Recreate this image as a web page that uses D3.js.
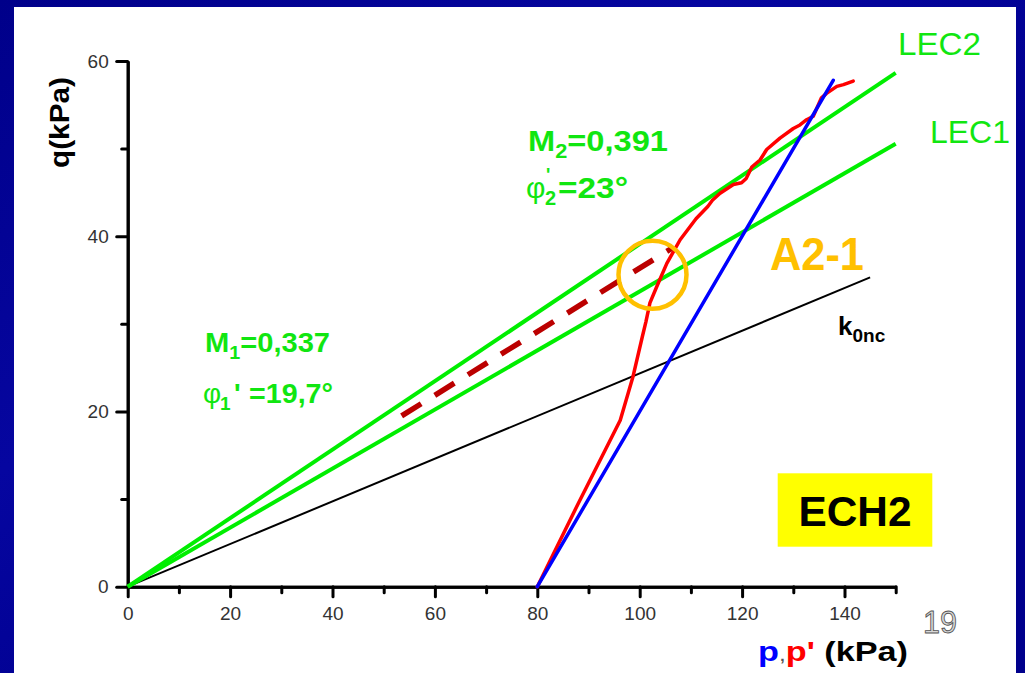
<!DOCTYPE html>
<html><head><meta charset="utf-8">
<script src="https://cdn.jsdelivr.net/npm/d3@7"></script>
<style>html,body{margin:0;padding:0;background:#00008c;overflow:hidden}svg{display:block}</style>
</head><body><svg id="c" width="1025" height="673"></svg>
<script>
// ---- data ----
const xMajorTicks = [0, 20, 40, 60, 80, 100, 120, 140];
const xMinorTicks = [10, 30, 50, 70, 90, 110, 130, 150];
const yMajorTicks = [0, 20, 40, 60];
const yMinorTicks = [10, 30, 50];
const lec1 = [[0, 0], [150, 50.55]];
const lec2 = [[0, 0], [150, 58.65]];
const k0nc = [[0, 0], [145, 35.3]];
const totalPath = [[80, 0], [137.8, 57.8]];
const effectivePath = [
  [80, 0], [88, 9.5], [96.2, 19], [98.7, 24], [100.5, 28.5], [101.2, 30.2], [102, 32.4],
  [103.3, 34.2], [105.3, 36.9], [107.9, 39.6], [111, 42], [113.3, 43.4], [114.2, 44.1],
  [115.7, 44.9], [118.3, 45.9], [119.9, 46.1], [120.8, 46.6], [121.9, 47.9], [123.5, 48.7],
  [124.8, 49.9], [127.4, 51.2], [130, 52.3], [131.3, 52.7], [132.6, 53.3], [133.9, 53.7],
  [135.5, 55.8], [136.5, 56.3], [138.5, 57.1], [139.8, 57.3], [141.7, 57.7]
];
const trendLine = [[53.5, 19.5], [106.2, 38.6]];
const failurePoint = [102.5, 35.6];

// ---- drawing ----
const svg = d3.select("#c");
const FONT = "'Liberation Sans', Arial, sans-serif";
const defs = svg.append("defs");
const g1 = defs.append("linearGradient").attr("id", "bg").attr("x1", "0").attr("y1", "0").attr("x2", "1").attr("y2", "1");
g1.append("stop").attr("offset", "0").attr("stop-color", "#00008a");
g1.append("stop").attr("offset", "0.35").attr("stop-color", "#0606a0");
g1.append("stop").attr("offset", "0.6").attr("stop-color", "#000090");
g1.append("stop").attr("offset", "1").attr("stop-color", "#00008c");
svg.append("rect").attr("width", 1025).attr("height", 673).attr("fill", "url(#bg)");
svg.append("rect").attr("x", 14).attr("y", 7).attr("width", 1002).attr("height", 666).attr("fill", "#ffffff");

const x = d3.scaleLinear().domain([0, 150]).range([127.7, 895.7]);
const y = d3.scaleLinear().domain([0, 60]).range([586.7, 61]);

function styleAxis(g) {
  g.selectAll("path.domain").attr("stroke", "#000").attr("stroke-width", 3);
  g.selectAll(".tick line").attr("stroke", "#000").attr("stroke-width", 3).attr("stroke-linecap", "round");
  g.selectAll(".tick text").attr("fill", "#333").style("font-family", FONT).style("font-size", "19px");
}
// minor ticks
svg.append("g").attr("transform", `translate(0,${y(0)})`)
  .call(d3.axisBottom(x).tickValues(xMinorTicks).tickSize(6).tickSizeOuter(0).tickFormat(""))
  .call(styleAxis);
svg.append("g").attr("transform", `translate(${x(0)},0)`)
  .call(d3.axisLeft(y).tickValues(yMinorTicks).tickSize(6).tickSizeOuter(0).tickFormat(""))
  .call(styleAxis);
// major ticks
svg.append("g").attr("transform", `translate(0,${y(0)})`)
  .call(d3.axisBottom(x).tickValues(xMajorTicks).tickSize(10).tickPadding(10).tickSizeOuter(0).tickFormat(d3.format("d")))
  .call(styleAxis);
svg.append("g").attr("transform", `translate(${x(0)},0)`)
  .call(d3.axisLeft(y).tickValues(yMajorTicks).tickSize(11).tickPadding(8).tickSizeOuter(0).tickFormat(d3.format("d")))
  .call(styleAxis);

const line = d3.line().x(d => x(d[0])).y(d => y(d[1]));
svg.append("path").attr("d", line(k0nc)).attr("fill", "none").attr("stroke", "#000").attr("stroke-width", 2);
svg.append("path").attr("d", line(lec1)).attr("fill", "none").attr("stroke", "#00ee00").attr("stroke-width", 4);
svg.append("path").attr("d", line(lec2)).attr("fill", "none").attr("stroke", "#00ee00").attr("stroke-width", 4);
svg.append("path").attr("d", line(effectivePath)).attr("fill", "none").attr("stroke", "#ff0000").attr("stroke-width", 3.5).attr("stroke-linejoin", "round").attr("stroke-linecap", "round");
svg.append("path").attr("d", line(totalPath)).attr("fill", "none").attr("stroke", "#0000ff").attr("stroke-width", 3.5).attr("stroke-linecap", "round");
svg.append("path").attr("d", line(trendLine)).attr("fill", "none").attr("stroke", "#bb0000").attr("stroke-width", 5.5).attr("stroke-dasharray", "23,16");
svg.append("circle").attr("cx", x(failurePoint[0])).attr("cy", y(failurePoint[1])).attr("r", 34)
  .attr("fill", "none").attr("stroke", "#ffc000").attr("stroke-width", 4.5);

// ---- texts ----
const GREEN = "#11e611";
function txt(xp, yp, s, size, opts = {}) {
  const t = svg.append("text").attr("x", xp).attr("y", yp).text(s)
    .style("font-family", FONT).style("font-size", size + "px")
    .style("font-weight", opts.bold ? "bold" : "normal")
    .attr("fill", opts.fill || "#000");
  if (opts.len) t.attr("textLength", opts.len).attr("lengthAdjust", "spacingAndGlyphs");
  if (opts.anchor) t.attr("text-anchor", opts.anchor);
  return t;
}
txt(898, 55, "LEC2", 31, {fill: GREEN, len: 83});
txt(930, 143, "LEC1", 31, {fill: GREEN, len: 80});

// M2 label
const m2 = svg.append("text").attr("x", 528).attr("y", 151).attr("fill", GREEN)
  .style("font-family", FONT).style("font-weight", "bold").style("font-size", "30px")
  .attr("textLength", 140).attr("lengthAdjust", "spacingAndGlyphs");
m2.append("tspan").text("M");
m2.append("tspan").attr("dy", 7).style("font-size", "20px").text("2");
m2.append("tspan").attr("dy", -7).text("=0,391");
// phi2 label
txt(526, 198, "φ", 30, {fill: GREEN});
txt(545, 205, "2", 20, {fill: GREEN, bold: true});
txt(546, 181, "'", 18, {fill: GREEN, bold: true});
txt(558, 198, "=23°", 30, {fill: GREEN, bold: true, len: 70});

// M1 label
const m1 = svg.append("text").attr("x", 205).attr("y", 352).attr("fill", GREEN)
  .style("font-family", FONT).style("font-weight", "bold").style("font-size", "28px")
  .attr("textLength", 125).attr("lengthAdjust", "spacingAndGlyphs");
m1.append("tspan").text("M");
m1.append("tspan").attr("dy", 7).style("font-size", "19px").text("1");
m1.append("tspan").attr("dy", -7).text("=0,337");
// phi1 label
txt(203, 403, "φ", 28, {fill: GREEN});
txt(220, 410, "1", 19, {fill: GREEN, bold: true});
txt(234, 403, "'", 28, {fill: GREEN, bold: true});
txt(249, 403, "=19,7°", 28, {fill: GREEN, bold: true, len: 84});

txt(770, 270, "A2-1", 46, {fill: "#ffc000", bold: true, len: 94});

const k = svg.append("text").attr("x", 838).attr("y", 335).attr("fill", "#000")
  .style("font-family", FONT).style("font-weight", "bold").style("font-size", "26px");
k.append("tspan").text("k");
k.append("tspan").attr("dy", 7).style("font-size", "19px").text("0nc");

// ECH2 box
svg.append("rect").attr("x", 777.7).attr("y", 473.3).attr("width", 154.6).attr("height", 73.4).attr("fill", "#ffff00");
txt(855, 526, "ECH2", 43, {bold: true, anchor: "middle", len: 113});

// axis titles
svg.append("text").attr("transform", "translate(69,122.5) rotate(-90)").attr("text-anchor", "middle")
  .style("font-family", FONT).style("font-weight", "bold").style("font-size", "28px")
  .attr("textLength", 91).attr("lengthAdjust", "spacingAndGlyphs").attr("fill", "#000").text("q(kPa)");

const xl = svg.append("text").attr("x", 758).attr("y", 661)
  .style("font-family", FONT).style("font-weight", "bold").style("font-size", "28px")
  .attr("textLength", 150).attr("lengthAdjust", "spacingAndGlyphs");
xl.append("tspan").attr("fill", "#0000ff").text("p");
xl.append("tspan").attr("fill", "#555").style("font-weight", "normal").style("font-size", "20px").text(",");
xl.append("tspan").attr("fill", "#ff0000").text("p'");
xl.append("tspan").attr("fill", "#000").text(" (kPa)");

// slide number
svg.append("text").attr("x", 923).attr("y", 633).text("19")
  .style("font-family", FONT).style("font-size", "32px")
  .attr("fill", "#d8d8d8").attr("stroke", "#555").attr("stroke-width", 0.9)
  .attr("textLength", 34).attr("lengthAdjust", "spacingAndGlyphs");
</script></body></html>
